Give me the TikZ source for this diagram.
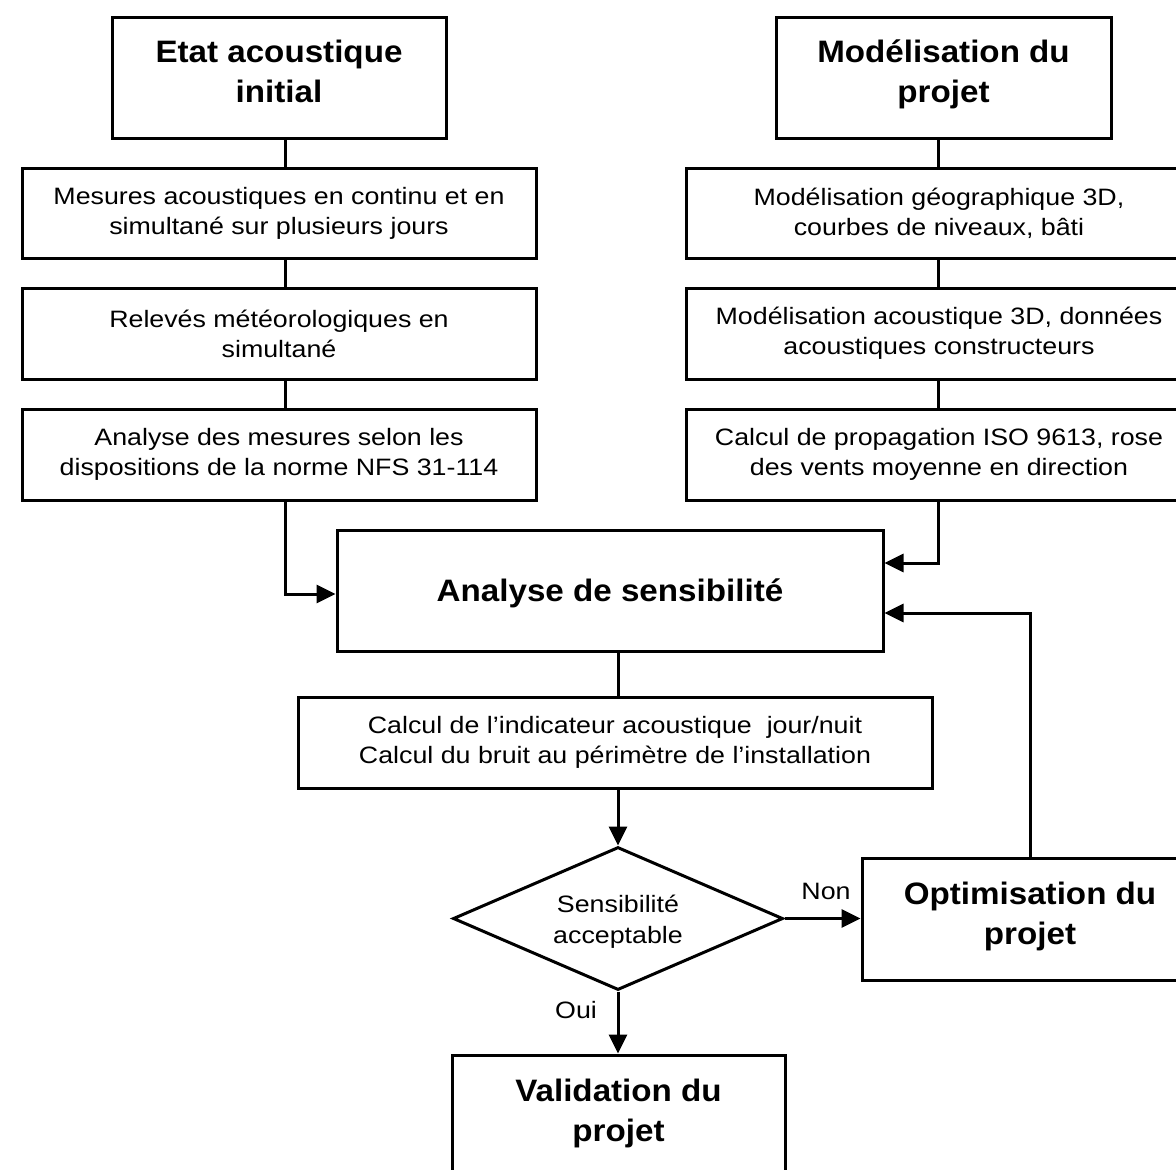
\documentclass[tikz,border=0pt]{standalone}
\usepackage{fontspec}
\setmainfont[FakeStretch=1.13]{Liberation Sans}
\newfontfamily\titlefont[FakeStretch=1.07]{Liberation Sans}
\usetikzlibrary{shapes.geometric,arrows.meta,calc}
\begin{document}
\begin{tikzpicture}[x=0.5pt,y=-0.5pt,
  box/.style={draw, line width=1.5pt, rectangle, inner sep=0pt, align=center, font=\fontsize{11.85}{15}\selectfont},
  tbox/.style={draw, line width=1.5pt, rectangle, inner sep=0pt},
  ttext/.style={inner sep=0pt, align=center, font=\titlefont\fontsize{15.5}{20}\selectfont\bfseries},
  lbl/.style={inner sep=0pt, align=center, font=\fontsize{11.85}{15.5}\selectfont},
  conn/.style={line width=1.5pt},
  arr/.style={line width=1.5pt, -{Triangle[length=9.5pt,width=9pt]}}]
\useasboundingbox (0,0) rectangle (1176,1169);
\fill[white] (0,0) rectangle (1176,1169);
\clip (0,0) rectangle (1176,1169);

% top titles
\node[tbox, minimum width=167pt, minimum height=60.5pt] (etat) at (279,77.5) {};
\node[ttext] (etatT) at (279,71) {Etat acoustique\\initial};
\node[tbox, minimum width=167.5pt, minimum height=60.5pt] (model) at (943.5,77.5) {};
\node[ttext] (modelT) at (943.5,74.5) {Modélisation du\\projet};

% left column
\node[box, minimum width=257pt, minimum height=45pt] (mes) at (279,213) {Mesures acoustiques en continu et en\\simultané sur plusieurs jours};
\node[box, minimum width=257pt, minimum height=45.5pt] (rel) at (279,333.5) {Relevés météorologiques en\\simultané};
\node[box, minimum width=257pt, minimum height=45.5pt] (ana) at (279,454.5) {Analyse des mesures selon les\\dispositions de la norme NFS 31-114};

% right column
\node[box, minimum width=253pt, minimum height=45pt] (geo) at (939,213) {Modélisation géographique 3D,\\courbes de niveaux, bâti};
\node[box, minimum width=253pt, minimum height=45.5pt] (aco) at (939,333.5) {Modélisation acoustique 3D, données\\acoustiques constructeurs};
\node[box, minimum width=253pt, minimum height=45.5pt] (prop) at (939,454.5) {Calcul de propagation ISO 9613, rose\\des vents moyenne en direction};

% centre
\node[tbox, minimum width=273pt, minimum height=60.5pt] (sens) at (610,590.5) {};
\node[ttext] (sensT) at (610,593) {Analyse de sensibilité};
\node[box, minimum width=317pt, minimum height=45.5pt] (calc) at (615,742.5) {Calcul de l’indicateur acoustique \ jour/nuit\\Calcul du bruit au périmètre de l’installation};
\node[draw, line width=1.5pt, diamond, aspect=2.3, inner sep=0pt, minimum width=165pt, minimum height=71.5pt] (dia) at (618,918.5) {};
\node[lbl] (diaT) at (618,922) {Sensibilité\\acceptable};
\node[tbox, minimum width=168pt, minimum height=61pt] (optim) at (1030,919) {};
\node[ttext] (optimT) at (1030,916) {Optimisation du\\projet};
\node[tbox, minimum width=166.5pt, minimum height=60pt] (valid) at (618.5,1115) {};
\node[ttext] (validT) at (618.5,1113) {Validation du\\projet};

\node[lbl] (non) at (826,891) {Non};
\node[lbl] (oui) at (576,1010) {Oui};

% helper columns
\coordinate (lx) at (285,0);
\coordinate (rx) at (938,0);
\coordinate (cx) at (618,0);

% connectors
\draw[conn] (etat.south -| lx) -- (mes.north -| lx);
\draw[conn] (mes.south -| lx) -- (rel.north -| lx);
\draw[conn] (rel.south -| lx) -- (ana.north -| lx);
\draw[arr] (ana.south -| lx) |- ($(sens.west)+(0,3.5)$);

\draw[conn] (model.south -| rx) -- (geo.north -| rx);
\draw[conn] (geo.south -| rx) -- (aco.north -| rx);
\draw[conn] (aco.south -| rx) -- (prop.north -| rx);
\draw[arr] (prop.south -| rx) |- ($(sens.east)+(0,-27.5)$);
\draw[arr] (optim.north) |- ($(sens.east)+(0,22.5)$);

\draw[conn] (sens.south -| cx) -- (calc.north -| cx);
\draw[arr] (calc.south -| dia.north) -- (dia.north);
\draw[arr] (dia.east) -- (dia.east -| optim.west);
\draw[arr] (dia.south) -- (dia.south |- valid.north);
\end{tikzpicture}
\end{document}
